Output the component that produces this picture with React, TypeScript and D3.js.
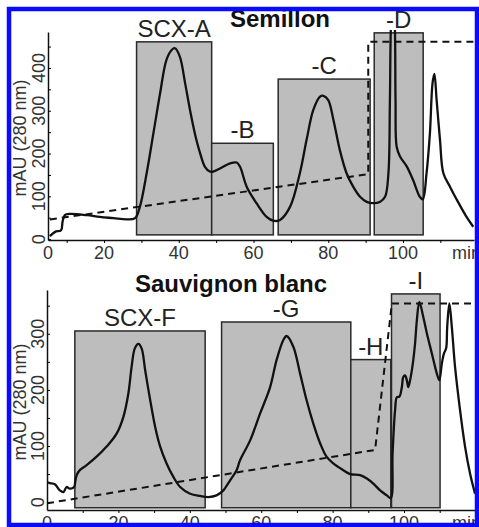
import React, { useEffect, useRef } from "react";
import * as d3 from "d3";

// Semillon (top panel) — [minutes, mAU]
const semTrace: [number, number][] = [
  [5.5, 7], [6.9, 17], [8.5, 21], [8.9, 41], [9.5, 56], [10.9, 59], [15.4, 56], [18.9, 52],
  [22.5, 49], [26.1, 46], [28.3, 49], [29.6, 76], [31.4, 154], [33.2, 247], [35.0, 341],
  [36.7, 419], [38.1, 442], [39.0, 446], [40.3, 426], [41.7, 364], [43.0, 302], [44.3, 247],
  [45.7, 201], [47.0, 169], [48.3, 158], [49.2, 158], [51.0, 165], [53.7, 177], [55.5, 179],
  [56.4, 169], [58.2, 122], [60.8, 84], [63.5, 52], [65.3, 43], [67.1, 45], [69.8, 76],
  [72.4, 154], [74.2, 232], [76.0, 302], [77.8, 333], [78.7, 335], [80.0, 325], [81.4, 278],
  [83.1, 208], [84.9, 154], [86.7, 122], [88.5, 99], [90.3, 87], [92.0, 84], [93.8, 87],
  [95.2, 99], [96.1, 154], [96.5, 325], [96.9, 520], [97.3, 540], [97.7, 520], [98.0, 325],
  [98.3, 216], [99.2, 193], [101.0, 170], [102.7, 138], [104.5, 99], [105.3, 93], [106.3, 154],
  [107.2, 247], [107.9, 364], [108.4, 386], [109.0, 325], [109.9, 232], [110.8, 154],
  [112.6, 122], [114.4, 92], [117.0, 52], [118.8, 29],
];
const semGradient: [number, number][] = [[5.5, 46], [90.7, 152], [90.7, 461], [119, 461]];
const semFractions = ["SCX-A", "-B", "-C", "-D"];
const semStart = [28.7, 48.8, 66.6, 92.3];
const semEnd = [48.8, 65.3, 91.2, 105.4];
const semHeight = [461, 224, 374, 482];
const semYTicks = [0, 100, 200, 300, 400];
const semXTicks = [20, 40, 60, 80, 100];

// Sauvignon blanc (bottom panel)
const sauTrace: [number, number][] = [
  [0, 36], [0.8, 34], [2.2, 32], [3.6, 21], [4.6, 18], [5.5, 27], [6.4, 24], [7.6, 27],
  [7.9, 36], [8.3, 48], [9.2, 57], [11.1, 66], [13.9, 81], [16.7, 99], [19.5, 122], [21.4, 152],
  [22.8, 194], [23.7, 241], [24.6, 274], [25.6, 282], [26.5, 274], [27.5, 235], [28.9, 182],
  [30.3, 134], [31.7, 99], [33.5, 69], [35.4, 45], [37.3, 27], [40.1, 15], [42.9, 11],
  [45.2, 9], [47.5, 12], [49.4, 21], [51.3, 39], [53.1, 57], [54.1, 75], [56.9, 110],
  [59.7, 158], [62.5, 205], [64.3, 253], [66.2, 289], [67.1, 296], [69.0, 277], [70.9, 229],
  [72.7, 182], [74.6, 140], [76.5, 105], [78.3, 81], [80.2, 69], [83.0, 57], [84.9, 50],
  [87.7, 48], [89.6, 42], [91.4, 33], [93.3, 21], [95.2, 12], [96.3, 7], [96.8, 87],
  [97.5, 164], [98.0, 187], [98.7, 188], [99.4, 205], [99.8, 223], [100.3, 226], [100.8, 217],
  [101.2, 205], [101.7, 217], [102.2, 235], [102.6, 253], [103.1, 283], [103.6, 324],
  [104.3, 357], [105.4, 330], [106.4, 301], [107.8, 265], [109.2, 229], [109.9, 217],
  [110.6, 247], [111.2, 265], [111.8, 274], [112.1, 312], [112.7, 354], [113.4, 312],
  [114.3, 241], [115.7, 164], [117.1, 99], [118.5, 51], [119.9, 15],
];
const sauGradient: [number, number][] = [[0, -2], [91.9, 93], [96.6, 354], [120, 354]];
const sauFractions = ["SCX-F", "-G", "-H", "-I"];
const sauStart = [7.8, 48.9, 85.1, 96.5];
const sauEnd = [44.3, 85.1, 96.3, 110.1];
const sauHeight = [305, 321, 254, 371];
const sauYTicks = [0, 100, 200, 300];
const sauXTicks = [0, 20, 40, 60, 80, 100];

const FONT = "'Liberation Sans', Arial, Helvetica, sans-serif";

const App = () => {
  const ref = useRef<SVGSVGElement>(null);

  useEffect(() => {
    const svg = d3.select(ref.current);
    svg.selectAll("*").remove();

    const drawPanel = (opts: any) => {
      const { id, x, y, trace, gradient, names, starts, ends, heights, base, yTicks, xTicks,
        title, titleX, titleY, originLabel, minorY, minorX } = opts;
      const [x0, x1] = x.range();
      const [yb, yt] = y.range();
      const g = svg.append("g");

      g.append("clipPath").attr("id", id)
        .append("rect").attr("x", x0).attr("y", yt - 2).attr("width", x1 - x0).attr("height", yb - yt + 2);

      // fraction boxes
      g.selectAll(".frac").data(names).enter().append("rect")
        .attr("x", (_d: any, i: number) => x(starts[i]))
        .attr("y", (_d: any, i: number) => y(heights[i]))
        .attr("width", (_d: any, i: number) => x(ends[i]) - x(starts[i]))
        .attr("height", (_d: any, i: number) => y(base) - y(heights[i]))
        .attr("fill", "#bdbdbd").attr("stroke", "#2a2a2a").attr("stroke-width", 1.5);

      g.selectAll(".fracLabel").data(names).enter().append("text")
        .attr("x", (_d: any, i: number) => (x(starts[i]) + x(ends[i])) / 2)
        .attr("y", (_d: any, i: number) => y(heights[i]) - 5)
        .attr("text-anchor", "middle")
        .style("font-family", FONT).style("font-size", "24px").style("fill", "#222")
        .text((d: any) => d);

      const line = d3.line<[number, number]>().x((d) => x(d[0])).y((d) => y(d[1]));

      g.append("path").datum(gradient).attr("d", line)
        .attr("clip-path", `url(#${id})`)
        .attr("fill", "none").attr("stroke", "#111").attr("stroke-width", 2)
        .attr("stroke-dasharray", "7,5");

      g.append("path").datum(trace).attr("d", line.curve(d3.curveCatmullRom.alpha(0.5)))
        .attr("clip-path", `url(#${id})`)
        .attr("fill", "none").attr("stroke", "#111").attr("stroke-width", 2.3);

      // axes
      g.append("g").attr("transform", `translate(0,${yb})`)
        .call(d3.axisBottom(x).tickValues(minorX).tickSize(3).tickFormat(() => "").tickSizeOuter(0))
        .call((a: any) => a.select(".domain").attr("stroke", "#111").attr("stroke-width", 1.5));

      g.append("g").attr("transform", `translate(${x0},0)`)
        .call(d3.axisLeft(y).tickValues(minorY).tickSize(-3).tickFormat(() => "").tickSizeOuter(0))
        .call((a: any) => a.select(".domain").attr("stroke", "#111").attr("stroke-width", 1.5));

      g.selectAll(".xl").data(xTicks).enter().append("text")
        .attr("x", (d: number) => x(d)).attr("y", yb + 19)
        .attr("text-anchor", "middle")
        .style("font-family", FONT).style("font-size", "18px").style("fill", "#333")
        .text((d: number) => d);
      if (originLabel) {
        g.append("text").attr("x", x0).attr("y", yb + 19).attr("text-anchor", "middle")
          .style("font-family", FONT).style("font-size", "18px").style("fill", "#333").text("0");
      }
      g.append("text").attr("x", 452).attr("y", yb + 19)
        .style("font-family", FONT).style("font-size", "18px").style("fill", "#333").text("min");

      g.selectAll(".yl").data(yTicks).enter().append("text")
        .attr("transform", (d: number) => `translate(${x0 - 3},${y(d)}) rotate(-90)`)
        .attr("text-anchor", "middle")
        .style("font-family", FONT).style("font-size", "18px").style("fill", "#333")
        .text((d: number) => d);

      g.append("text")
        .attr("transform", `translate(26,${(yb + yt) / 2 + 2}) rotate(-90)`)
        .attr("text-anchor", "middle")
        .style("font-family", FONT).style("font-size", "18px").style("fill", "#333")
        .text("mAU (280 nm)");

      g.append("text").attr("x", titleX).attr("y", titleY).attr("text-anchor", "middle")
        .style("font-family", FONT).style("font-size", "24px").style("font-weight", "bold").style("fill", "#111")
        .text(title);
    };

    // top: axis starts at 5 min (labelled 0 in the original)
    const xTop = d3.scaleLinear().domain([5, 119]).range([48, 474]);
    const yTop = d3.scaleLinear().domain([-2, 484]).range([240, 32]);
    drawPanel({
      id: "clipTop", x: xTop, y: yTop, trace: semTrace, gradient: semGradient,
      names: semFractions, starts: semStart, ends: semEnd, heights: semHeight, base: 10,
      yTicks: semYTicks, xTicks: semXTicks, title: "Semillon", titleX: 280, titleY: 27,
      originLabel: true, minorY: d3.range(0, 481, 50), minorX: d3.range(10, 111, 10),
    });

    const xBot = d3.scaleLinear().domain([0, 120]).range([47, 475.4]);
    const yBot = d3.scaleLinear().domain([-14, 378]).range([510, 290]);
    drawPanel({
      id: "clipBot", x: xBot, y: yBot, trace: sauTrace, gradient: sauGradient,
      names: sauFractions, starts: sauStart, ends: sauEnd, heights: sauHeight, base: -10,
      yTicks: sauYTicks, xTicks: sauXTicks, title: "Sauvignon blanc", titleX: 231, titleY: 292,
      originLabel: false, minorY: d3.range(0, 376, 50), minorX: d3.range(10, 111, 10),
    });

    // blue frame
    svg.append("rect").attr("x", 9).attr("y", 9).attr("width", 468).attr("height", 516)
      .attr("fill", "none").attr("stroke", "#0a0aff").attr("stroke-width", 4.5);
  }, []);

  return (
    <div style={{ position: "absolute", left: 0, top: 0 }}>
      <svg ref={ref} width={479} height={527} style={{ display: "block", background: "#fff" }} />
    </div>
  );
};

export default App;
